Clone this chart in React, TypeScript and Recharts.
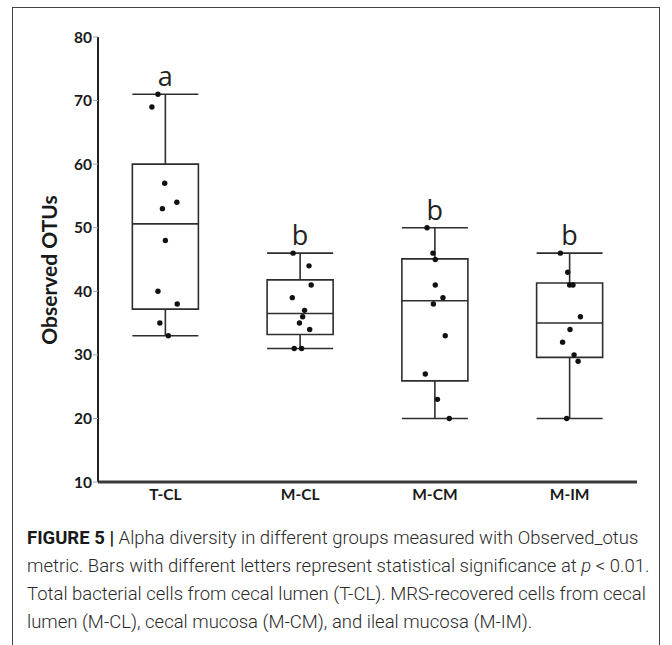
import React from "react";
import {
  ComposedChart,
  XAxis,
  YAxis,
  Scatter,
  ReferenceArea,
  ReferenceLine,
} from "recharts";

// groups along the x axis
const categories = ["T-CL", "M-CL", "M-CM", "M-IM"];
const letters = ["a", "b", "b", "b"];

// box summary per group
const whiskerHigh = [71, 46, 50, 46];
const upperQuartile = [60, 41.8, 45.1, 41.3];
const medians = [50.6, 36.5, 38.5, 35];
const lowerQuartile = [37.2, 33.2, 25.9, 29.6];
const whiskerLow = [33, 31, 20, 20];

// individual samples (observed OTUs) and their horizontal jitter
const tclValues = [71, 69, 57, 54, 53, 48, 40, 38, 35, 33];
const tclJitter = [-0.055, -0.1, -0.005, 0.085, -0.022, 0, -0.055, 0.088, -0.041, 0.022];
const mclValues = [46, 44, 41, 39, 37, 36, 35, 34, 31, 31];
const mclJitter = [-0.052, 0.066, 0.082, -0.058, 0.033, 0.019, -0.005, 0.071, -0.044, 0.011];
const mcmValues = [50, 46, 45, 41, 39, 38, 33, 27, 23, 20];
const mcmJitter = [-0.058, -0.014, 0.003, 0.003, 0.06, -0.011, 0.077, -0.071, 0.019, 0.107];
const mimValues = [46, 43, 41, 41, 36, 34, 32, 30, 29, 20];
const mimJitter = [-0.069, -0.014, 0, 0.025, 0.08, 0.003, -0.052, 0.033, 0.063, -0.022];

const yTicks = [10, 20, 30, 40, 50, 60, 70, 80];

const groupValues = [tclValues, mclValues, mcmValues, mimValues];
const groupJitter = [tclJitter, mclJitter, mcmJitter, mimJitter];

const HALF = 0.245;
const INK = "#2e2e2e";

const points = categories.flatMap((_, i) =>
  groupValues[i].map((v, j) => ({ x: i + 0.5 + groupJitter[i][j], y: v }))
);
const letterData = categories.map((_, i) => ({ x: i + 0.5, y: whiskerHigh[i], letter: letters[i] }));

const tickFont = { fontFamily: "Lato", fontWeight: 700, fontSize: 15.5, fill: "#1a1a1a" };

export default function App() {
  return (
    <div style={{ position: "relative", width: 672, height: 645, background: "#fff", overflow: "hidden" }}>
      <style>{`body { margin: 0; }`}</style>
      {/* figure frame, open at the bottom */}
      <div
        style={{
          position: "absolute",
          left: 12,
          top: 7,
          width: 646,
          height: 700,
          border: "1.5px solid #444",
        }}
      />
      <div
        style={{
          position: "absolute",
          left: 48,
          top: 270,
          transform: "translate(-50%, -50%) rotate(-90deg)",
          fontFamily: "Lato",
          fontWeight: 700,
          fontSize: 21,
          color: "#1a1a1a",
          whiteSpace: "nowrap",
        }}
      >
        Observed OTUs
      </div>
      <div style={{ position: "absolute", left: 0, top: 0 }}>
        <ComposedChart
          width={672}
          height={520}
          margin={{ top: 37, right: 35, left: 38, bottom: 8 }}
        >
          <XAxis
            type="number"
            dataKey="x"
            domain={[0, 4]}
            ticks={[0.5, 1.5, 2.5, 3.5]}
            tickFormatter={(v) => categories[Math.floor(v)]}
            tick={tickFont}
            tickLine={false}
            tickSize={0}
            tickMargin={7}
            axisLine={{ stroke: "#3a3a3a", strokeWidth: 3 }}
            height={30}
            allowDataOverflow
          />
          <YAxis
            type="number"
            dataKey="y"
            domain={[10, 80]}
            ticks={yTicks}
            tick={tickFont}
            tickSize={5}
            tickMargin={1}
            tickLine={{ stroke: "#9aa7b5" }}
            axisLine={{ stroke: "#222", strokeWidth: 2 }}
            width={60}
            allowDataOverflow
          />

          {categories.map((c, i) => (
            <ReferenceArea
              key={`box-${c}`}
              x1={i + 0.5 - HALF}
              x2={i + 0.5 + HALF}
              y1={lowerQuartile[i]}
              y2={upperQuartile[i]}
              fill="none"
              fillOpacity={0}
              stroke={INK}
              strokeWidth={1.6}
              ifOverflow="visible"
            />
          ))}
          {categories.map((c, i) => (
            <ReferenceLine
              key={`med-${c}`}
              segment={[
                { x: i + 0.5 - HALF, y: medians[i] },
                { x: i + 0.5 + HALF, y: medians[i] },
              ]}
              stroke={INK}
              strokeWidth={1.6}
              ifOverflow="visible"
            />
          ))}
          {categories.map((c, i) => (
            <ReferenceLine
              key={`whi-${c}`}
              segment={[
                { x: i + 0.5, y: upperQuartile[i] },
                { x: i + 0.5, y: whiskerHigh[i] },
              ]}
              stroke={INK}
              strokeWidth={1.6}
              ifOverflow="visible"
            />
          ))}
          {categories.map((c, i) => (
            <ReferenceLine
              key={`wlo-${c}`}
              segment={[
                { x: i + 0.5, y: lowerQuartile[i] },
                { x: i + 0.5, y: whiskerLow[i] },
              ]}
              stroke={INK}
              strokeWidth={1.6}
              ifOverflow="visible"
            />
          ))}
          {categories.map((c, i) => (
            <ReferenceLine
              key={`capHi-${c}`}
              segment={[
                { x: i + 0.5 - HALF, y: whiskerHigh[i] },
                { x: i + 0.5 + HALF, y: whiskerHigh[i] },
              ]}
              stroke={INK}
              strokeWidth={1.6}
              ifOverflow="visible"
            />
          ))}
          {categories.map((c, i) => (
            <ReferenceLine
              key={`capLo-${c}`}
              segment={[
                { x: i + 0.5 - HALF, y: whiskerLow[i] },
                { x: i + 0.5 + HALF, y: whiskerLow[i] },
              ]}
              stroke={INK}
              strokeWidth={1.6}
              ifOverflow="visible"
            />
          ))}

          <Scatter
            data={points}
            dataKey="y"
            isAnimationActive={false}
            shape={(p: any) => <circle cx={p.cx} cy={p.cy} r={2.7} fill="#111" />}
          />
          <Scatter
            data={letterData}
            dataKey="y"
            isAnimationActive={false}
            shape={(p: any) => (
              <text
                x={p.cx}
                y={p.cy - 8}
                textAnchor="middle"
                fontFamily="Open Sans"
                fontSize={27}
                fill="#222"
              >
                {p.payload.letter}
              </text>
            )}
          />
        </ComposedChart>
      </div>
      <div
        style={{
          position: "absolute",
          left: 27,
          top: 524,
          fontFamily: "Roboto",
          fontWeight: 300,
          fontSize: 18.5,
          lineHeight: "28px",
          color: "#2a2a2a",
          whiteSpace: "nowrap",
        }}
      >
        <b style={{ color: "#1a1a1a", fontWeight: 700 }}>FIGURE 5 |</b> Alpha diversity in different groups measured with Observed_otus
        <br />
        metric. Bars with different letters represent statistical significance at <i>p</i> &lt; 0.01.
        <br />
        Total bacterial cells from cecal lumen (T-CL). MRS-recovered cells from cecal
        <br />
        lumen (M-CL), cecal mucosa (M-CM), and ileal mucosa (M-IM).
      </div>
    </div>
  );
}
